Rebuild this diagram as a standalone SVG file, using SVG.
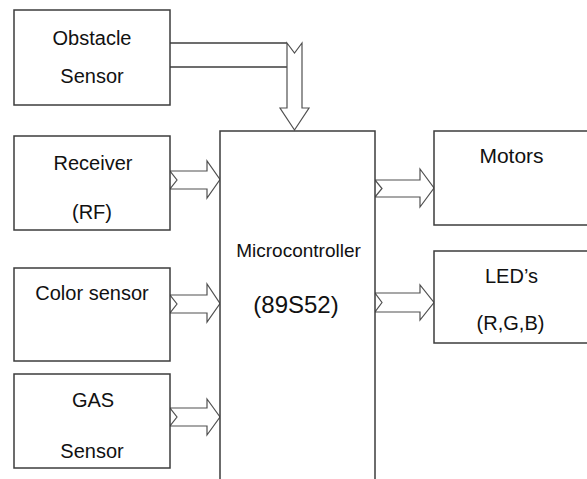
<svg xmlns="http://www.w3.org/2000/svg" width="587" height="479" viewBox="0 0 587 479">
<style>
.box{fill:#fff;stroke:#3c3c3c;stroke-width:1.5}
.arr{fill:#fff;stroke:#505050;stroke-width:1.2;stroke-linejoin:miter}
.ln{fill:none;stroke:#3c3c3c;stroke-width:1.5}
text{font-family:"Liberation Sans",Arial,sans-serif;font-size:20px;fill:#111;text-anchor:middle}
</style>
<rect width="587" height="479" fill="#fff"/>
<g id="connectors">
<line class="ln" x1="170" y1="43" x2="287" y2="43"/>
<line class="ln" x1="170" y1="67" x2="287" y2="67"/>
<polygon class="arr" points="287,43 294.5,53 302,43 302,108 309,108 294.5,130 280,108 287,108"/>
<polygon class="arr" points="170,171 207,171 207,161 220,179.5 207,198 207,189 170,189 177,180"/>
<polygon class="arr" points="170,295 207,295 207,284 220,303.5 207,322 207,313 170,313 177,304"/>
<polygon class="arr" points="170,408 207,408 207,399 220,417 207,435 207,426 170,426 177,417"/>
<polygon class="arr" points="375,180 420,180 420,169 434,188 420,207 420,197 375,197 382,188.5"/>
<polygon class="arr" points="375,293 420,293 420,285 434,302.5 420,320 420,312 375,312 382,302.5"/>
</g>
<g id="obstacle">
<rect class="box" x="14" y="10" width="156" height="95"/>
<text x="92" y="45">Obstacle</text>
<text x="92" y="83">Sensor</text>
</g>
<g id="receiver">
<rect class="box" x="14" y="136" width="156" height="94"/>
<text x="93" y="170">Receiver</text>
<text x="92" y="219">(RF)</text>
</g>
<g id="color">
<rect class="box" x="14" y="268" width="156" height="93"/>
<text x="92" y="300">Color sensor</text>
</g>
<g id="gas">
<rect class="box" x="14" y="374" width="156" height="94"/>
<text x="93" y="407">GAS</text>
<text x="92" y="458">Sensor</text>
</g>
<g id="micro">
<rect class="box" x="220" y="131" width="155" height="370"/>
<text x="298.5" y="257" style="font-size:19px">Microcontroller</text>
<text x="296" y="313" style="font-size:24px">(89S52)</text>
</g>
<g id="motors">
<rect class="box" x="434" y="131" width="170" height="94"/>
<text x="511.5" y="163" style="font-size:21px">Motors</text>
</g>
<g id="leds">
<rect class="box" x="434" y="251" width="170" height="92"/>
<text x="511.5" y="283">LED’s</text>
<text x="510.5" y="330">(R,G,B)</text>
</g>
</svg>
